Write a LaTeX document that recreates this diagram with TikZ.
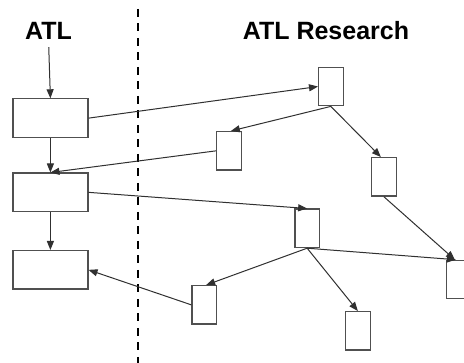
\documentclass[tikz,border=0pt]{standalone}
\usepackage{fontspec}
\setmainfont{Liberation Sans}
\usetikzlibrary{arrows.meta}
\definecolor{boxc}{HTML}{505050}
\definecolor{linec}{HTML}{303030}
\tikzset{
  wide/.style={draw=boxc, line width=1.2pt, minimum width=75pt, minimum height=38.5pt, inner sep=0pt, anchor=north west},
  tall/.style={draw=boxc, line width=1.2pt, minimum width=24.5pt, minimum height=38.5pt, inner sep=0pt, anchor=north west},
  conn/.style={draw=linec, line width=1pt, -{Triangle[length=9pt,width=7pt]}},
  title/.style={font=\bfseries\fontsize{25}{25}\selectfont, inner sep=0pt, anchor=base}
}
\begin{document}
\begin{tikzpicture}[x=1pt,y=-1pt]
\useasboundingbox (0,0) rectangle (464,363);
\clip (0,0) rectangle (464,363);
\fill[white] (0,0) rectangle (464,363);
% titles
\node[title] (atl) at (48.5,39.3) {ATL};
\node[title] (atlr) at (326,39.3) {ATL Research};
% divider
\coordinate (dtop) at (138.3,9);
\coordinate (dbot) at (138.3,363);
\draw[black, line width=2pt, dash pattern=on 8pt off 6.5pt] (dtop) -- (dbot);
% left boxes
\node[wide] (a1) at (12.3,98.3) {};
\node[wide] (a2) at (12.3,172.5) {};
\node[wide] (a3) at (12.3,250) {};
% right boxes
\node[tall] (r1) at (318,66.7) {};
\node[tall] (r2) at (216,131) {};
\node[tall] (r3) at (371,157) {};
\node[tall] (r4) at (294.3,208.5) {};
\node[tall] (r5) at (446,259.7) {};
\node[tall] (r6) at (345,311) {};
\node[tall] (r7) at (191.3,285) {};
% connectors
\draw[conn, shorten <=7.7pt] (atl.south) -- (a1.north);
\draw[conn] (a1.south) -- (a2.north);
\draw[conn] (a2.south) -- (a3.north);
\draw[conn] (a1.east) -- (r1.west);
\draw[conn] (r1.south) -- ([xshift=2pt]r2.north);
\draw[conn] (r2.west) -- (a2.north);
\draw[conn] (r1.south) -- ([xshift=-3pt]r3.north);
\draw[conn] (a2.east) -- (r4.north);
\draw[conn] (r4.south) -- ([xshift=-3pt]r5.north);
\draw[conn] (r3.south) -- ([xshift=-4pt]r5.north);
\draw[conn] (r4.south) -- (r6.north);
\draw[conn] (r4.south) -- ([xshift=2pt]r7.north);
\draw[conn] (r7.west) -- (a3.east);
\end{tikzpicture}
\end{document}
